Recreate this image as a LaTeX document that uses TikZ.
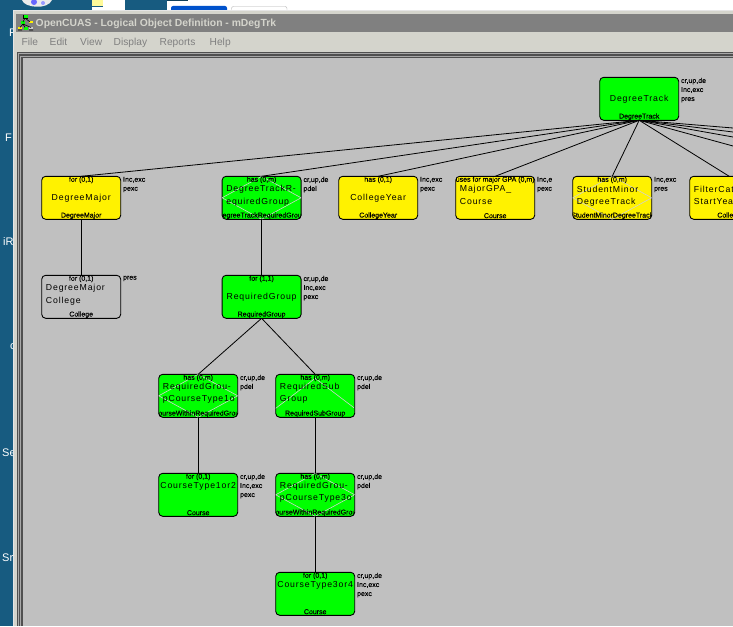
\documentclass[tikz,border=0pt]{standalone}
\usepackage{fontspec}
\setmainfont{Liberation Sans}
\newfontfamily\namefam[LetterSpace=10]{Liberation Sans}
\newfontfamily\smallfam[FakeBold=0.25]{Liberation Sans}
\definecolor{desk}{HTML}{175B80}
\definecolor{chrome}{HTML}{D4D4CC}
\definecolor{canvas}{HTML}{C0C0C0}
\definecolor{titlebar}{HTML}{808080}
\definecolor{frameD}{HTML}{505050}
\definecolor{frameL}{HTML}{A8A8A8}
\tikzset{
  entity/.style={draw=black,line width=0.9pt,rounded corners=4pt,minimum width=79pt,minimum height=43pt,inner sep=0pt,outer sep=0pt},
  link/.style={draw=black,line width=0.8pt},
  smalltext/.style={font=\smallfam\fontsize{7}{9}\selectfont,inner sep=0pt,text=black},
  nametext/.style={font=\namefam\fontsize{8.7}{10}\selectfont,inner sep=0pt,text=black},
  sidetext/.style={smalltext,align=left,anchor=north west},
  deskfont/.style={font=\fontsize{11}{13}\selectfont,text=white,inner sep=0pt},
  menufont/.style={font=\fontsize{10.2}{12}\selectfont,text=titlebar,inner sep=0pt,anchor=base west},
  glint/.style={draw=black!18,line width=0.6pt},
}
\newcommand\nameone[2]{\node[nametext] (#1-name) at (#1.center) {#2};}
\newcommand\nametwo[3]{%
  \node[nametext,anchor=west] (#1-nameA) at ([xshift=4pt,yshift=8.8pt]#1.west) {#2};
  \node[nametext,anchor=west] (#1-nameB) at ([xshift=4pt,yshift=-4pt]#1.west) {#3};}
\newcommand\namehigh[2]{\node[nametext] (#1-name) at ([yshift=8.8pt]#1.center) {#2};}
\newcommand\diam[1]{\draw[glint] (#1.west) -- (#1.north) -- (#1.east) -- (#1.south) -- cycle;}
\newcommand\chev[1]{\draw[glint] ([yshift=9pt]#1.south west) -- ([yshift=-4pt]#1.north) -- ([yshift=9pt]#1.south east);}
\newcommand\nodeco[1]{}
% id, cx, cy, fill, top label, bottom label, name code, decoration, side lines
\newcommand\ent[9]{%
  \node[entity,fill=#4] (#1) at (#2,#3) {};
  \begin{scope}
    \clip[rounded corners=4pt] (#1.north west) rectangle (#1.south east);
    #8{#1}
    #7
    \node[smalltext] (#1-top) at ([yshift=-3.6pt]#1.north) {#5};
    \node[smalltext] (#1-bot) at ([yshift=3.6pt]#1.south) {#6};
  \end{scope}
  \node[sidetext] (#1-side) at ([xshift=2.2pt,yshift=-0.4pt]#1.north east) {#9};
}
\begin{document}
\begin{tikzpicture}[x=1pt,y=-1pt]
\useasboundingbox (0,0) rectangle (733,626);
\clip (0,0) rectangle (733,626);
% desktop
\fill[desk] (0,0) rectangle (733,626);
\fill[white] (167,0) rectangle (733,11);
\fill[white] (103,0) rectangle (125,11);
\fill[black!8] (22,0) .. controls (24,8) and (48,10) .. (52,0) -- cycle;
\fill[blue!60!white] (34,2) circle (3);
\fill[blue!40!white] (43,3) circle (2);
\fill[yellow!40!white] (92,0) rectangle (103,6);
\fill[white] (92,7) rectangle (103,11);
\fill[desk!70!black] (167,0) rectangle (188,1.2);
\fill[blue!60!cyan!80!black,rounded corners=2pt] (171,6) rectangle (227,13);
\draw[black!30,rounded corners=2pt] (231.5,6.5) rectangle (287,13);
\node[deskfont,anchor=west] (d1) at (9,33) {F};
\node[deskfont,anchor=west] (d2) at (5,138) {F};
\node[deskfont,anchor=west] (d3) at (3,242) {iR};
\node[deskfont,anchor=west] (d4) at (10,347) {c};
\node[deskfont,anchor=west] (d5) at (2,453) {Se};
\node[deskfont,anchor=west] (d6) at (2,558) {Sr};
% window chrome
\fill[chrome] (13,10) rectangle (733,626);
\draw[white!90!black,line width=0.8pt] (13.4,626) -- (13.4,10.4) -- (733,10.4);
\fill[titlebar] (16,14) rectangle (733,32);
\node[font=\bfseries\fontsize{10.35}{12}\selectfont,text=chrome,anchor=base west,inner sep=0pt] (wintitle) at (35.5,27) {OpenCUAS - Logical Object Definition - mDegTrk};
\node[menufont] (mFile) at (21.5,46) {File};
\node[menufont] (mEdit) at (49.5,46) {Edit};
\node[menufont] (mView) at (80,46) {View};
\node[menufont] (mDisplay) at (113.5,46) {Display};
\node[menufont] (mReports) at (159.5,46) {Reports};
\node[menufont] (mHelp) at (209.5,46) {Help};
% icon
\fill[black] (22.5,15) rectangle (28,19);
\fill[green] (23.5,15.5) rectangle (27.5,18.5);
\fill[green] (21,21) rectangle (25,24);
\fill[yellow] (29,21) rectangle (33,23.5);
\fill[yellow] (18,27) rectangle (22,29.5);
\fill[green] (23.5,27) rectangle (27.5,30);
\fill[black!20] (29,27) rectangle (33,29.5);
\draw[black,line width=0.6pt] (25,18) -- (23,22) (25,18) -- (30,22) (23,24) -- (20,27.5) (23,24) -- (25,27.5) (23,24) -- (31,27.5) (18,30) -- (22,30) (29,30) -- (33,30);
% sunken frame
\fill[frameD] (16.5,52) rectangle (733,626);
\fill[frameL] (17.8,53.5) rectangle (733,626);
\fill[frameD] (19,54.5) rectangle (733,626);
\fill[frameL] (20.3,56) rectangle (733,626);
\fill[frameD] (21.2,57) rectangle (733,626);
\fill[canvas] (22.6,58.4) rectangle (733,626);
% entities
\ent{dt}{639.2}{98.8}{green}{}{DegreeTrack}{\nameone{dt}{DegreeTrack}}{\nodeco}{cr,up,de\\Inc,exc\\pres}
\ent{dm}{81.2}{197.8}{yellow}{for (0,1)}{DegreeMajor}{\nameone{dm}{DegreeMajor}}{\nodeco}{Inc,exc\\pexc}
\ent{dtr}{261.6}{197.8}{green}{has (0,m)}{DegreeTrackRequiredGroup}{\nametwo{dtr}{DegreeTrackR-}{equiredGroup}}{\diam}{cr,up,de\\pdel}
\ent{cy}{378.2}{197.8}{yellow}{has (0,1)}{CollegeYear}{\nameone{cy}{CollegeYear}}{\nodeco}{Inc,exc\\pexc}
\ent{gpa}{495.2}{197.8}{yellow}{uses for major GPA (0,m)}{Course}{\nametwo{gpa}{MajorGPA\_}{Course}}{\nodeco}{Inc,e\\pexc}
\ent{smd}{612.2}{197.8}{yellow}{has (0,m)}{StudentMinorDegreeTrack}{\nametwo{smd}{StudentMinor}{DegreeTrack}}{\diam}{Inc,exc\\pres}
\ent{fc}{729.2}{197.8}{yellow}{}{College}{\nametwo{fc}{FilterCat}{StartYear}}{\nodeco}{}
\ent{dmc}{81.2}{296.8}{canvas}{for (0,1)}{College}{\nametwo{dmc}{DegreeMajor}{College}}{\nodeco}{pres}
\ent{rg}{261.6}{296.8}{green}{for (1,1)}{RequiredGroup}{\nameone{rg}{RequiredGroup}}{\nodeco}{cr,up,de\\Inc,exc\\pexc}
\ent{rga}{198.2}{395.8}{green}{has (0,m)}{CourseWithinRequiredGroup}{\nametwo{rga}{RequiredGrou-}{pCourseType1o}}{\diam}{cr,up,de\\pdel}
\ent{rsg}{315.2}{395.8}{green}{has (0,m)}{RequiredSubGroup}{\nametwo{rsg}{RequiredSub}{Group}}{\chev}{cr,up,de\\pdel}
\ent{cta}{198.2}{494.8}{green}{for (0,1)}{Course}{\namehigh{cta}{CourseType1or2}}{\nodeco}{cr,up,de\\Inc,exc\\pexc}
\ent{rgb}{315.2}{494.8}{green}{has (0,m)}{CourseWithinRequiredGroup}{\nametwo{rgb}{RequiredGrou-}{pCourseType3o}}{\diam}{cr,up,de\\pdel}
\ent{ctb}{315.2}{593.8}{green}{for (0,1)}{Course}{\namehigh{ctb}{CourseType3or4}}{\nodeco}{cr,up,de\\Inc,exc\\pexc}
% free ends of the connectors leaving the picture
\coordinate (off1) at (733,128);
\coordinate (off2) at (733,132);
\coordinate (off3) at (733,137);
\coordinate (off4) at (733,146);
% connectors
\draw[link] (dt.south) -- (dm.north);
\draw[link] (dt.south) -- (dtr.north);
\draw[link] (dt.south) -- (cy.north);
\draw[link] (dt.south) -- (gpa.north);
\draw[link] (dt.south) -- (smd.north);
\draw[link] (dt.south) -- (fc.north);
\draw[link] (dt.south) -- (off1);
\draw[link] (dt.south) -- (off2);
\draw[link] (dt.south) -- (off3);
\draw[link] (dt.south) -- (off4);
\draw[link] (dm.south) -- (dmc.north);
\draw[link] (dtr.south) -- (rg.north);
\draw[link] (rg.south) -- (rga.north);
\draw[link] (rg.south) -- (rsg.north);
\draw[link] (rga.south) -- (cta.north);
\draw[link] (rsg.south) -- (rgb.north);
\draw[link] (rgb.south) -- (ctb.north);
\end{tikzpicture}
\end{document}
